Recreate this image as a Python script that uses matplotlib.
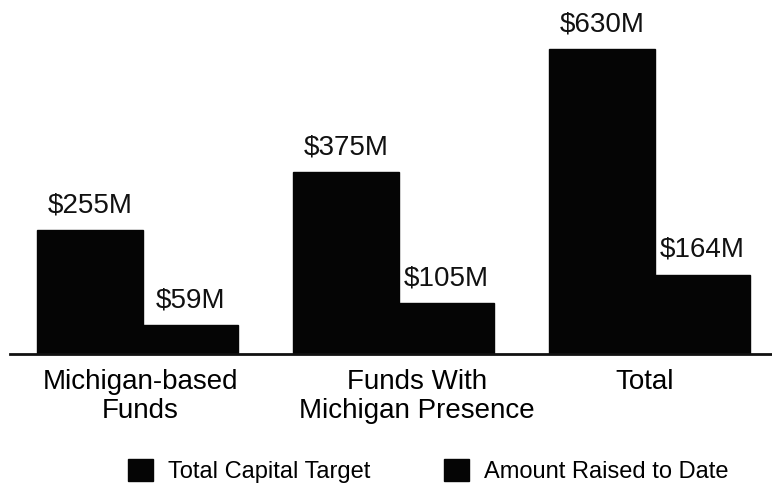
import numpy as np
import matplotlib
matplotlib.use("Agg")
import matplotlib.pyplot as plt

plt.rcParams['font.family'] = ['Liberation Sans', 'DejaVu Sans']

# данные
categories = ['Michigan-based\nFunds', 'Funds With\nMichigan Presence', 'Total']
target = [255, 375, 630]
raised = [59, 105, 164]
series_names = ['Total Capital Target', 'Amount Raised to Date']

x = np.arange(len(categories))

fig = plt.figure(figsize=(7.72, 4.90), dpi=100)
ax = fig.add_axes([0.013, 0.2776, 0.987, 0.6918])

b1 = ax.bar(x, target, width=-0.414, align='edge', color='#050505', edgecolor='#050505')
b2 = ax.bar(x, raised, width=0.371, align='edge', color='#050505', edgecolor='#050505')

# подписи значений над столбцами
for bars, vals in ((b1, target), (b2, raised)):
    for rect, v in zip(bars, vals):
        ax.text(rect.get_x() + rect.get_width() / 2, v + 24, f'${v}M',
                ha='center', va='bottom', fontsize=20, color='#111111')

ax.set_xlim(-0.52, 2.457)
ax.set_ylim(0, 700)

ax.set_xticks(x + np.array([-0.01, 0.07, -0.04]))
ax.set_xticklabels(categories, fontsize=20, linespacing=1.12)
ax.tick_params(axis='x', length=0, pad=11)
ax.set_yticks([])

for s in ('top', 'right', 'left'):
    ax.spines[s].set_visible(False)
ax.spines['bottom'].set_linewidth(2)
ax.spines['bottom'].set_color('#111111')

fig.legend([b1, b2], series_names, loc='center', bbox_to_anchor=(0.555, 0.038),
           ncol=2, frameon=False, fontsize=17, handlelength=1.05, handleheight=1.05,
           handletextpad=0.65, columnspacing=3.1)

fig.savefig('out.png', dpi=100)
